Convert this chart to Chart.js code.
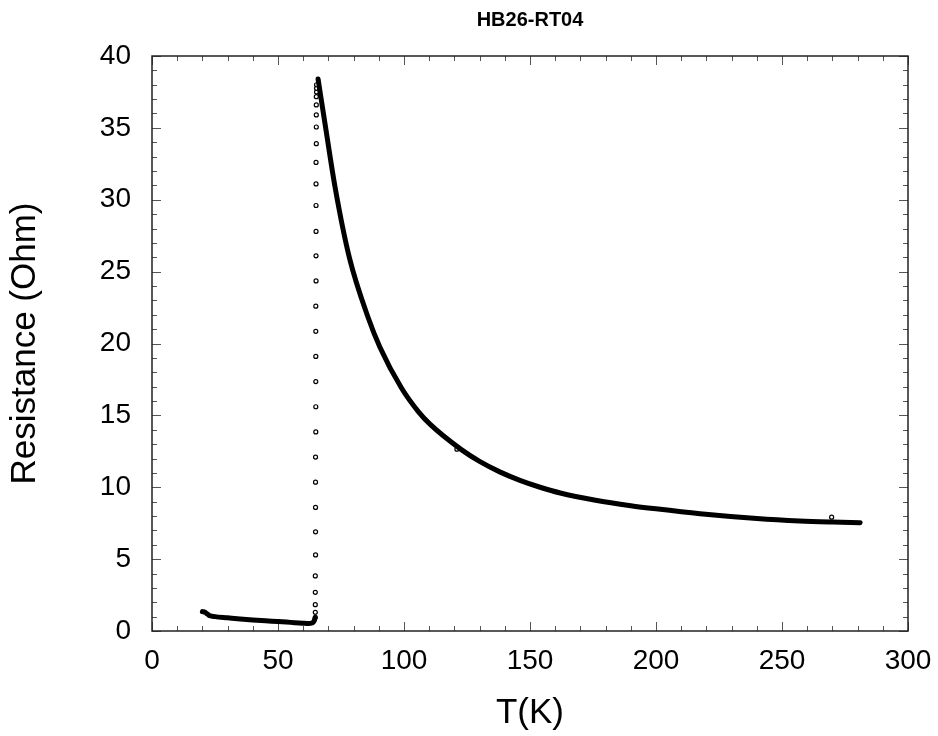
<!DOCTYPE html>
<html>
<head>
<meta charset="utf-8">
<script src="https://cdn.jsdelivr.net/npm/chart.js@4.4.1/dist/chart.umd.min.js"></script>
<style>
  html, body { margin: 0; padding: 0; background: #fff; }
  canvas { display: block; }
</style>
</head>
<body>
<canvas id="chartRT" width="938" height="736"></canvas>
<script>
// normal-state branch above the transition
const highT = [65.9, 68.9, 72.8, 78.3, 85.8, 90.5, 99, 105.6, 110.3, 122.9, 130, 138, 146, 154, 162, 176, 190, 200, 217.5, 240, 257, 270, 281];
const highR = [38.4, 35.01, 30.72, 25.99, 21.79, 19.72, 16.9, 15.28, 14.39, 12.6, 11.8, 11.07, 10.48, 10.0, 9.6, 9.1, 8.72, 8.5, 8.16, 7.83, 7.66, 7.58, 7.53];

// low temperature branch below the transition
const lowT = [20, 21, 22, 23, 25, 30, 35, 40, 45, 50, 55, 60, 62, 63.5, 64.3, 64.7];
const lowR = [1.35, 1.3, 1.18, 1.06, 1.0, 0.92, 0.84, 0.77, 0.71, 0.66, 0.6, 0.54, 0.52, 0.56, 0.68, 0.9];

// sparse points measured through the jump
const jumpT = [64.8, 64.8, 64.8, 64.8, 64.8, 64.9, 64.9, 64.9, 64.9, 64.9, 65.0, 65.0, 65.0, 65.0, 65.0, 65.0, 65.1, 65.1, 65.1, 65.1, 65.1, 65.1, 65.2, 65.2, 65.2, 65.2, 65.2, 65.3, 65.3, 65.3];
const jumpR = [0.95, 1.3, 1.83, 2.69, 3.83, 5.29, 6.9, 8.6, 10.35, 12.1, 13.85, 15.6, 17.35, 19.1, 20.85, 22.6, 24.35, 26.1, 27.8, 29.6, 31.1, 32.6, 33.9, 35.06, 35.9, 36.6, 37.17, 37.5, 37.75, 38.0];

// stray points off the curve
const strayT = [121, 269.7];
const strayR = [12.65, 7.92];

const xTicks = [0, 50, 100, 150, 200, 250, 300];
const yTicks = [0, 5, 10, 15, 20, 25, 30, 35, 40];

const FONT = "'Liberation Sans', Arial, sans-serif";

function pts(xs, ys) {
  return xs.map((x, i) => ({ x: x, y: ys[i] }));
}

// box around the plot with inward ticks on every side
const framePlugin = {
  id: 'frame',
  beforeDatasetsDraw(chart) {
    const { ctx, chartArea: a, scales } = chart;
    const sx = scales.x, sy = scales.y;
    ctx.save();
    ctx.strokeStyle = '#555';
    ctx.lineWidth = 1;
    ctx.beginPath();
    for (let v = 0; v <= 300; v += 10) {
      const px = Math.round(sx.getPixelForValue(v)) + 0.5;
      const len = v % 50 === 0 ? 9 : 5;
      ctx.moveTo(px, a.bottom); ctx.lineTo(px, a.bottom - len);
      ctx.moveTo(px, a.top); ctx.lineTo(px, a.top + len);
    }
    for (let v = 0; v <= 40; v += 1) {
      const py = Math.round(sy.getPixelForValue(v)) + 0.5;
      const len = v % 5 === 0 ? 9 : 5;
      ctx.moveTo(a.left, py); ctx.lineTo(a.left + len, py);
      ctx.moveTo(a.right, py); ctx.lineTo(a.right - len, py);
    }
    ctx.stroke();
    ctx.strokeStyle = '#222';
    ctx.lineWidth = 1.5;
    ctx.strokeRect(a.left, a.top, a.right - a.left, a.bottom - a.top);
    ctx.restore();
  }
};

document.addEventListener('DOMContentLoaded', function() {
  const ctx = document.getElementById('chartRT').getContext('2d');
  new Chart(ctx, {
    type: 'scatter',
    data: {
      datasets: [
        {
          type: 'line',
          data: pts(highT, highR),
          borderColor: '#000',
          borderWidth: 5,
          borderCapStyle: 'round',
          borderJoinStyle: 'round',
          pointRadius: 0,
          cubicInterpolationMode: 'monotone',
          fill: false
        },
        {
          type: 'line',
          data: pts(lowT, lowR),
          borderColor: '#000',
          borderWidth: 5,
          borderCapStyle: 'round',
          borderJoinStyle: 'round',
          pointRadius: 0,
          cubicInterpolationMode: 'monotone',
          fill: false
        },
        {
          data: pts(jumpT, jumpR),
          pointStyle: 'circle',
          pointRadius: 2,
          pointBorderWidth: 1.2,
          pointBorderColor: '#000',
          pointBackgroundColor: '#fff'
        },
        {
          data: pts(strayT, strayR),
          pointStyle: 'circle',
          pointRadius: 2,
          pointBorderWidth: 1.2,
          pointBorderColor: '#000',
          pointBackgroundColor: '#fff'
        }
      ]
    },
    options: {
      responsive: false,
      animation: false,
      layout: { padding: { top: 0, right: 30, bottom: 0, left: 0 } },
      plugins: {
        legend: { display: false },
        tooltip: { enabled: false },
        title: {
          display: true,
          fullSize: false,
          text: 'HB26-RT04',
          color: '#000',
          font: { family: FONT, size: 20, weight: 'bold' },
          padding: { top: 8, bottom: 24 }
        }
      },
      scales: {
        x: {
          type: 'linear',
          min: 0, max: 300,
          afterBuildTicks: s => { s.ticks = xTicks.map(v => ({ value: v })); },
          afterFit: s => { s.height = 105; s.paddingLeft = 0; s.paddingRight = 0; },
          grid: { display: false, drawTicks: false, tickLength: 0 },
          border: { display: false },
          ticks: { color: '#000', padding: 13, font: { family: FONT, size: 28 } },
          title: {
            display: true, text: 'T(K)', color: '#000',
            font: { family: FONT, size: 35 },
            padding: { top: 0, bottom: 2 }
          }
        },
        y: {
          type: 'linear',
          min: 0, max: 40,
          afterBuildTicks: s => { s.ticks = yTicks.map(v => ({ value: v })); },
          afterFit: s => { s.width = 152; s.paddingTop = 0; s.paddingBottom = 0; },
          grid: { display: false, drawTicks: false, tickLength: 0 },
          border: { display: false },
          ticks: { color: '#000', padding: 21, font: { family: FONT, size: 28 } },
          title: {
            display: true, text: 'Resistance (Ohm)', color: '#000',
            font: { family: FONT, size: 35 },
            padding: { top: 4, bottom: 0 }
          }
        }
      }
    },
    plugins: [framePlugin]
  });
});
</script>
</body>
</html>
